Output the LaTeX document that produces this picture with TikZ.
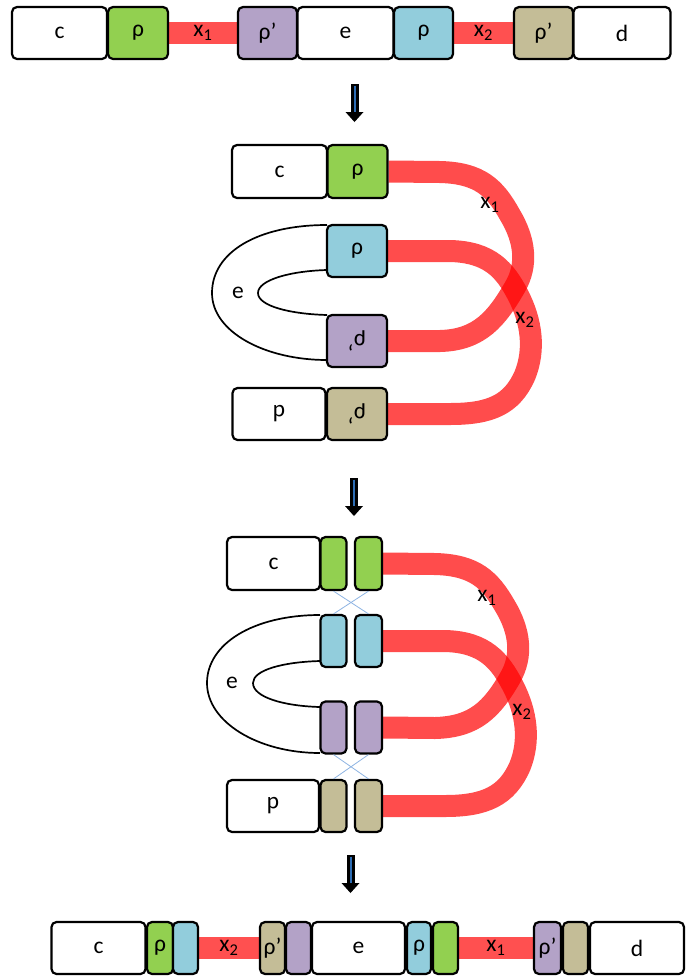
\documentclass[tikz,border=0pt]{standalone}
\usepackage{fontspec}
\usepackage{graphicx}
\setmainfont{Carlito}
\definecolor{gr}{HTML}{92D050}
\definecolor{pu}{HTML}{B3A2C7}
\definecolor{bl}{HTML}{92CDDC}
\definecolor{tn}{HTML}{C4BD97}
\definecolor{rd}{HTML}{FF5050}
\definecolor{xl}{HTML}{8EB4E3}
\definecolor{ab}{HTML}{2E6DB4}
\pgfdeclarelayer{bg}
\pgfdeclarelayer{bgbase}
\pgfsetlayers{bgbase,bg,main}
\begin{document}
\begin{tikzpicture}[x=1pt,y=-1pt,
  blk/.style={draw, line width=2.2pt, rounded corners=5pt, inner sep=0pt,
    minimum height=52pt, font=\fontsize{23.5}{27}\selectfont, fill=white},
  lbl/.style={font=\fontsize{23.5}{27}\selectfont, inner sep=0pt},
  bar/.style={draw=rd, line width=22pt},
  band/.style={draw=red, draw opacity=0.7, line width=22pt},
  ushape/.style={draw, line width=1.7pt},
  xline/.style={draw=xl, line width=0.8pt},
  darrow/.pic={
    \draw[line width=8pt] (0,0) -- (0,29);
    \draw[ab, line width=2pt] (0,1.5) -- (0,30);
    \fill (-9,28) -- (9,28) -- (0,38) -- cycle;
  }]
\useasboundingbox (0,0) rectangle (686,978);
\begin{pgfonlayer}{bgbase}
\fill[white] (0,0) rectangle (686,978);
\end{pgfonlayer}

% ---------- top row ----------
\node[blk, minimum width=95pt] (c0) at (59.5,33) {c};
\node[blk, fill=gr, minimum width=60pt] (g0) at (138,33) {ρ};
\node[blk, fill=pu, minimum width=59pt] (p0) at (267.5,33) {ρ’};
\node[blk, minimum width=96pt] (e0) at (345.5,33) {e};
\node[blk, fill=bl, minimum width=59pt] (b0) at (423.5,33) {ρ};
\node[blk, fill=tn, minimum width=59pt] (t0) at (543.5,33) {ρ’};
\node[blk, minimum width=97pt] (d0) at (622,33) {d};
\begin{pgfonlayer}{bg}
\draw[bar] (g0.east) -- node[lbl]{x\textsubscript{1}} (p0.west);
\draw[bar] (b0.east) -- node[lbl]{x\textsubscript{2}} (t0.west);
\end{pgfonlayer}

\pic at (354.5,84) {darrow};

% ---------- middle 1 ----------
\node[blk, minimum width=95pt, minimum height=53pt] (c1) at (279.5,171.5) {c};
\node[blk, fill=gr, minimum width=60pt, minimum height=53pt] (g1) at (357.5,171.5) {ρ};
\node[blk, fill=bl, minimum width=60pt] (b1) at (357,251) {ρ};
\node[blk, fill=pu, minimum width=60pt] (p1) at (357,341) {\rotatebox{180}{ρ’}};
\node[blk, fill=tn, minimum width=60pt] (t1) at (357,414) {\rotatebox{180}{ρ’}};
\node[blk, minimum width=93pt] (d1) at (279,414) {\rotatebox{180}{d}};
\draw[ushape] (327,225) .. controls (258,225) and (212,252) .. (212,293)
  .. controls (212,332) and (265,360) .. (327,360);
\draw[ushape] (327,270) .. controls (290,271) and (258,280) .. (258,293)
  .. controls (258,306) and (290,314) .. (327,315);
\node[lbl] (e1) at (238,293) {e};
\begin{pgfonlayer}{bg}
\draw[band] (g1.east) -- (440,172) .. controls (480,173) and (495,188) .. (510,215)
  .. controls (525,240) and (528,265) .. (515,287)
  .. controls (497,318) and (480,340) .. (440,341) -- (p1.east);
\draw[band] (b1.east) -- (450,251) .. controls (490,252) and (505,270) .. (518,295)
  .. controls (532,322) and (535,350) .. (525,375)
  .. controls (512,405) and (490,414) .. (450,414) -- (t1.east);
\end{pgfonlayer}
\node[lbl] (x1a) at (490,205) {x\textsubscript{1}};
\node[lbl] (x2a) at (525,320) {x\textsubscript{2}};

\pic at (354,478) {darrow};

% ---------- middle 2 ----------
\node[blk, minimum width=93pt, minimum height=53pt] (c2) at (273.5,563.5) {c};
\node[blk, fill=gr, minimum width=26pt, minimum height=53pt] (g2a) at (333.5,563.5) {};
\node[blk, fill=gr, minimum width=27pt, minimum height=53pt] (g2b) at (368.5,563.5) {};
\node[blk, fill=bl, minimum width=26pt] (b2a) at (333.5,641) {};
\node[blk, fill=bl, minimum width=27pt] (b2b) at (368.5,641) {};
\node[blk, fill=pu, minimum width=26pt] (p2a) at (333.5,727.5) {};
\node[blk, fill=pu, minimum width=27pt] (p2b) at (368.5,727.5) {};
\node[blk, fill=tn, minimum width=26pt] (t2a) at (333.5,806) {};
\node[blk, fill=tn, minimum width=27pt] (t2b) at (368.5,806) {};
\node[blk, minimum width=92pt] (d2) at (273,806) {\rotatebox{180}{d}};
\draw[ushape] (320,615) .. controls (253,615) and (207,644) .. (207,683)
  .. controls (207,722) and (258,753) .. (320,753);
\draw[ushape] (320,661) .. controls (283,662) and (253,670) .. (253,683)
  .. controls (253,697) and (283,706) .. (320,707);
\node[lbl] (e2) at (232,683) {e};
\draw[xline] (g2a.south) -- (b2b.north);
\draw[xline] (g2b.south) -- (b2a.north);
\draw[xline] (p2a.south) -- (t2b.north);
\draw[xline] (p2b.south) -- (t2a.north);
\begin{pgfonlayer}{bg}
\draw[band] (g2b.east) -- (435,564) .. controls (475,565) and (490,580) .. (505,606)
  .. controls (520,631) and (523,656) .. (510,678)
  .. controls (492,709) and (475,727) .. (435,728) -- (p2b.east);
\draw[band] (b2b.east) -- (445,641) .. controls (485,642) and (500,661) .. (513,686)
  .. controls (527,713) and (530,741) .. (520,766)
  .. controls (507,796) and (485,806) .. (445,806) -- (t2b.east);
\end{pgfonlayer}
\node[lbl] (x1b) at (487,598) {x\textsubscript{1}};
\node[lbl] (x2b) at (522,712) {x\textsubscript{2}};

\pic at (350.5,855) {darrow};

% ---------- bottom row ----------
\node[blk, minimum width=94pt] (c3) at (98.5,948) {c};
\node[blk, fill=gr, minimum width=26pt] (g3a) at (160,948) {ρ};
\node[blk, fill=bl, minimum width=25pt] (b3a) at (185.5,948) {};
\node[blk, fill=tn, minimum width=25pt] (t3a) at (272.5,948) {ρ’};
\node[blk, fill=pu, minimum width=25pt] (p3a) at (298.5,948) {};
\node[blk, minimum width=93pt] (e3) at (358.5,948) {e};
\node[blk, fill=bl, minimum width=24pt] (b3b) at (419,948) {ρ};
\node[blk, fill=gr, minimum width=25pt] (g3b) at (445.5,948) {};
\node[blk, fill=pu, minimum width=27pt] (p3b) at (547.5,948) {ρ’};
\node[blk, fill=tn, minimum width=25pt] (t3b) at (575.5,948) {};
\node[blk, minimum width=94pt] (d3) at (637,948) {d};
\begin{pgfonlayer}{bg}
\draw[bar] (b3a.east) -- node[lbl]{x\textsubscript{2}} (t3a.west);
\draw[bar] (g3b.east) -- node[lbl]{x\textsubscript{1}} (p3b.west);
\end{pgfonlayer}
\end{tikzpicture}
\end{document}
